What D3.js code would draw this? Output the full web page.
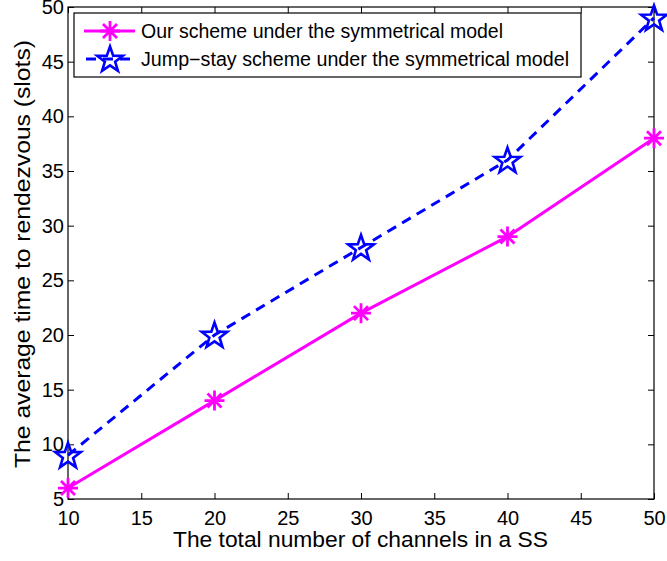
<!DOCTYPE html>
<html><head><meta charset="utf-8">
<script src="https://cdn.jsdelivr.net/npm/d3@7/dist/d3.min.js"></script>
<style>body{margin:0;background:#fff}svg text{font-family:"Liberation Sans",Arial,Helvetica,sans-serif}</style>
</head><body><svg id="c" width="667" height="561"></svg>
<script>
const channels = [10, 20, 30, 40, 50];
const ourScheme = [6, 14, 22, 29, 38];
const jumpStay = [9, 20, 28, 36, 49];
const xTicks = [10, 15, 20, 25, 30, 35, 40, 45, 50];
const yTicks = [5, 10, 15, 20, 25, 30, 35, 40, 45, 50];
const seriesNames = ["Our scheme under the symmetrical model", "Jump\u2212stay scheme under the symmetrical model"];
const xLabel = "The total number of channels in a SS";
const yLabel = "The average time to rendezvous (slots)";

const L = 68, R = 654, T = 7, B = 499;
const svg = d3.select("#c");
const x = d3.scaleLinear().domain([10, 50]).range([L, R]);
const y = d3.scaleLinear().domain([5, 50]).range([B, T]);
const fs = 20;

function styleAxis(g, labels) {
  g.select(".domain").remove();
  g.selectAll(".tick line").attr("stroke", "#000");
  g.selectAll(".tick text").attr("fill", "#000").style("font-size", fs + "px");
  if (!labels) g.selectAll(".tick text").remove();
}
svg.append("g").attr("transform", `translate(0,${B})`)
  .call(d3.axisBottom(x).tickValues(xTicks).tickSize(-6).tickPadding(11.5).tickFormat(d3.format("d")))
  .call(g => styleAxis(g, true));
svg.append("g").attr("transform", `translate(0,${T})`)
  .call(d3.axisTop(x).tickValues(xTicks).tickSize(-6))
  .call(g => styleAxis(g, false));
svg.append("g").attr("transform", `translate(${L},0)`)
  .call(d3.axisLeft(y).tickValues(yTicks).tickSize(-6).tickPadding(4).tickFormat(d3.format("d")))
  .call(g => styleAxis(g, true));
svg.append("g").attr("transform", `translate(${R},0)`)
  .call(d3.axisRight(y).tickValues(yTicks).tickSize(-6))
  .call(g => styleAxis(g, false));
svg.append("rect").attr("x", L).attr("y", T).attr("width", R - L).attr("height", B - T)
  .attr("fill", "none").attr("stroke", "#000").attr("stroke-width", 1.2);

const line = d3.line().x(d => x(d[0])).y(d => y(d[1]));
const d1 = channels.map((c, i) => [c, ourScheme[i]]);
const d2 = channels.map((c, i) => [c, jumpStay[i]]);

const magenta = "#ff00ff", blue = "#0000ff";
function asterisk(g, cx, cy) {
  const r = 10, k = 7;
  const p = `M${cx},${cy - r}V${cy + r}M${cx - r},${cy}H${cx + r}M${cx - k},${cy - k}L${cx + k},${cy + k}M${cx - k},${cy + k}L${cx + k},${cy - k}`;
  g.append("path").attr("d", p).attr("stroke", magenta).attr("stroke-width", 2.8).attr("fill", "none");
}
function star(g, cx, cy) {
  const ro = 13.5, ri = ro * 0.4;
  const pts = [];
  for (let i = 0; i < 10; i++) {
    const a = -Math.PI / 2 + i * Math.PI / 5;
    const r = i % 2 ? ri : ro;
    pts.push([cx + r * Math.cos(a), cy + 1 + r * Math.sin(a)]);
  }
  g.append("path").attr("d", "M" + pts.join("L") + "Z").attr("stroke", blue).attr("stroke-width", 2.6)
    .attr("fill", "none").attr("stroke-linejoin", "miter");
}

svg.append("path").datum(d2).attr("d", line).attr("fill", "none").attr("stroke", blue)
  .attr("stroke-width", 3).attr("stroke-dasharray", "10,7");
svg.append("path").datum(d1).attr("d", line).attr("fill", "none").attr("stroke", magenta)
  .attr("stroke-width", 3);
const mg = svg.append("g");
d2.forEach(d => star(mg, x(d[0]), y(d[1])));
d1.forEach(d => asterisk(mg, x(d[0]), y(d[1])));

// legend
const lg = svg.append("g");
lg.append("rect").attr("x", 74).attr("y", 13).attr("width", 507).attr("height", 64)
  .attr("fill", "#fff").attr("stroke", "#000").attr("stroke-width", 1.2);
const rows = [31, 59];
lg.append("line").attr("x1", 84).attr("x2", 135).attr("y1", rows[0]).attr("y2", rows[0])
  .attr("stroke", magenta).attr("stroke-width", 3);
asterisk(lg, 110, rows[0]);
lg.append("line").attr("x1", 84).attr("x2", 135).attr("y1", rows[1]).attr("y2", rows[1])
  .attr("stroke", blue).attr("stroke-width", 3).attr("stroke-dasharray", "10,7").attr("stroke-dashoffset", -2);
star(lg, 110, rows[1]);
const legendWidths = [362, 428];
seriesNames.forEach((n, i) => {
  lg.append("text").attr("x", 141).attr("y", rows[i] + 6.5)
    .attr("textLength", legendWidths[i]).attr("lengthAdjust", "spacingAndGlyphs")
    .style("font-size", "19.5px").attr("fill", "#000").text(n);
});

svg.append("text").attr("x", 173).attr("y", 547)
  .attr("textLength", 375).attr("lengthAdjust", "spacingAndGlyphs")
  .style("font-size", "22px").text(xLabel);
svg.append("text").attr("transform", `translate(30,468) rotate(-90)`)
  .attr("textLength", 428).attr("lengthAdjust", "spacingAndGlyphs")
  .style("font-size", "22px").text(yLabel);
</script></body></html>
